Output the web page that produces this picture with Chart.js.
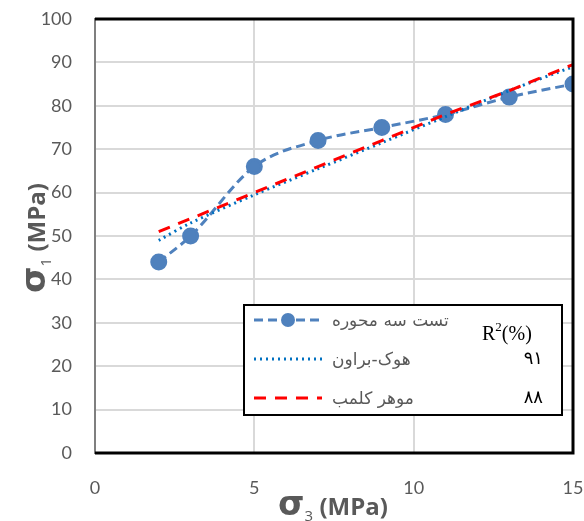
<!DOCTYPE html>
<html>
<head>
<meta charset="utf-8">
<script src="https://cdn.jsdelivr.net/npm/chart.js@4.4.0/dist/chart.umd.min.js"></script>
<style>
  html, body { margin: 0; padding: 0; background: #fff; }
  #wrap { width: 584px; height: 521px; position: relative; }
</style>
</head>
<body>
<div id="wrap"><canvas id="c"></canvas></div>
<script>
// Data
const sigma3 = [2, 3, 5, 7, 9, 11, 13, 15];
const triaxial = [44, 50, 66, 72, 75, 78, 82, 85];
const hoekBrown = [49, 53, 59.5, 65.5, 71.5, 77.5, 83.5, 89];
const mohrCoulomb = [51, 54, 60, 66, 72, 78, 83.5, 89.5];

const seriesNames = ['تست سه محوره', 'هوک-براون', 'موهر کلمب'];
const r2Values = ['', '۹۱', '۸۸'];
const xTicks = [0, 5, 10, 15];
const yTicks = [0, 10, 20, 30, 40, 50, 60, 70, 80, 90, 100];

const toPoints = ys => sigma3.map((x, i) => ({ x: x, y: ys[i] }));

const GREY = '#595959';

// Axis titles, legend box and frame drawn by hand
const extras = {
  id: 'extras',
  afterDraw(chart) {
    const ctx = chart.ctx;
    const a = chart.chartArea;
    ctx.save();

    // frame
    ctx.strokeStyle = '#000';
    ctx.lineWidth = 3;
    ctx.beginPath();
    ctx.moveTo(a.left, a.top);
    ctx.lineTo(a.right, a.top);
    ctx.lineTo(a.right, a.bottom);
    ctx.lineTo(a.left, a.bottom);
    ctx.stroke();

    // x title
    drawTitle(ctx, '3', 333, 506, 0);
    // y title
    drawTitle(ctx, '1', 36, 238, -Math.PI / 2);

    // legend box
    const lx = 244, ly = 305, lw = 318, lh = 110;
    ctx.fillStyle = '#fff';
    ctx.fillRect(lx, ly, lw, lh);
    ctx.strokeStyle = '#000';
    ctx.lineWidth = 2;
    ctx.strokeRect(lx, ly, lw, lh);

    const rows = [320, 359, 398];
    chart.data.datasets.forEach((ds, i) => {
      const y = rows[i];
      ctx.strokeStyle = ds.borderColor;
      ctx.lineWidth = 3;
      ctx.setLineDash(ds.borderDash || []);
      ctx.beginPath();
      ctx.moveTo(254, y);
      ctx.lineTo(322, y);
      ctx.stroke();
      ctx.setLineDash([]);
      if (ds.pointRadius > 0) {
        ctx.fillStyle = ds.pointBackgroundColor;
        ctx.beginPath();
        ctx.arc(288, y, 7, 0, Math.PI * 2);
        ctx.fill();
      }
      ctx.fillStyle = GREY;
      ctx.font = '17px "DejaVu Sans", "Noto Sans", sans-serif';
      ctx.textAlign = 'left';
      ctx.textBaseline = 'middle';
      ctx.fillText(seriesNames[i], 332, y + 2);

      if (r2Values[i]) {
        ctx.fillStyle = '#000';
        ctx.textAlign = 'right';
        ctx.font = '18px "DejaVu Sans", sans-serif';
        ctx.fillText(r2Values[i], 543, y);
      }
    });
    // R2 header
    ctx.fillStyle = '#000';
    ctx.textBaseline = 'alphabetic';
    ctx.textAlign = 'left';
    ctx.font = '20px "Liberation Serif", serif';
    ctx.fillText('R', 482, 340);
    let w = ctx.measureText('R').width;
    ctx.font = '13px "Liberation Serif", serif';
    ctx.fillText('2', 482 + w, 331);
    let w2 = ctx.measureText('2').width;
    ctx.font = '20px "Liberation Serif", serif';
    ctx.fillText('(%)', 482 + w + w2, 340);

    ctx.restore();
  }
};

function drawTitle(ctx, sub, cx, cy, rot) {
  ctx.save();
  ctx.translate(cx, cy);
  ctx.rotate(rot);
  ctx.fillStyle = GREY;
  ctx.textBaseline = 'alphabetic';
  ctx.textAlign = 'left';
  const f1 = 'bold 34px "DejaVu Sans", sans-serif';
  const f2 = '15px "Open Sans", sans-serif';
  const f3 = 'bold 24px "Open Sans", sans-serif';
  ctx.font = f1; const w1 = ctx.measureText('σ').width;
  ctx.font = f2; const w2 = ctx.measureText(sub).width;
  ctx.font = f3; const w3 = ctx.measureText(' (MPa)').width;
  let x = -(w1 + w2 + w3) / 2;
  const base = 9;
  ctx.font = f1; ctx.fillText('σ', x, base); x += w1;
  ctx.font = f2; ctx.fillText(sub, x, base + 6); x += w2;
  ctx.font = f3; ctx.fillText(' (MPa)', x, base);
  ctx.restore();
}

new Chart(document.getElementById('c'), {
  type: 'scatter',
  data: {
    datasets: [
      {
        label: seriesNames[0],
        data: toPoints(triaxial),
        showLine: true,
        borderColor: '#4f81bd',
        backgroundColor: '#4f81bd',
        pointBackgroundColor: '#4f81bd',
        pointBorderColor: '#4f81bd',
        borderWidth: 3,
        borderDash: [9, 5],
        pointRadius: 7,
        tension: 0.3,
        cubicInterpolationMode: 'monotone',
        order: 2
      },
      {
        label: seriesNames[1],
        data: toPoints(hoekBrown),
        showLine: true,
        borderColor: '#0070c0',
        backgroundColor: '#0070c0',
        borderWidth: 3,
        borderDash: [2, 4],
        pointRadius: 0,
        tension: 0.3,
        order: 1
      },
      {
        label: seriesNames[2],
        data: toPoints(mohrCoulomb),
        showLine: true,
        borderColor: '#ff0000',
        backgroundColor: '#ff0000',
        borderWidth: 3,
        borderDash: [12, 9],
        pointRadius: 0,
        tension: 0,
        order: 0
      }
    ]
  },
  options: {
    responsive: true,
    maintainAspectRatio: false,
    animation: false,
    layout: { padding: { top: 19, right: 11, left: 0, bottom: 0 } },
    plugins: { legend: { display: false }, tooltip: { enabled: false } },
    scales: {
      x: {
        type: 'linear',
        min: 0, max: 15,
        afterBuildTicks: s => { s.ticks = xTicks.map(v => ({ value: v })); },
        afterFit: s => { s.height = 68; s.paddingLeft = 0; s.paddingRight = 0; },
        grid: { color: '#d9d9d9', lineWidth: 2, drawTicks: false },
        border: { display: false },
        ticks: { color: GREY, padding: 24, font: { family: 'Lato', size: 18 } }
      },
      y: {
        type: 'linear',
        min: 0, max: 100,
        afterBuildTicks: s => { s.ticks = yTicks.map(v => ({ value: v })); },
        afterFit: s => { s.width = 95; s.paddingTop = 0; s.paddingBottom = 0; },
        grid: { color: '#d9d9d9', lineWidth: 2, drawTicks: false },
        border: { display: true, color: '#7f7f7f', width: 2 },
        ticks: { color: GREY, padding: 23, font: { family: 'Lato', size: 18 } }
      }
    }
  },
  plugins: [extras]
});
</script>
</body>
</html>
